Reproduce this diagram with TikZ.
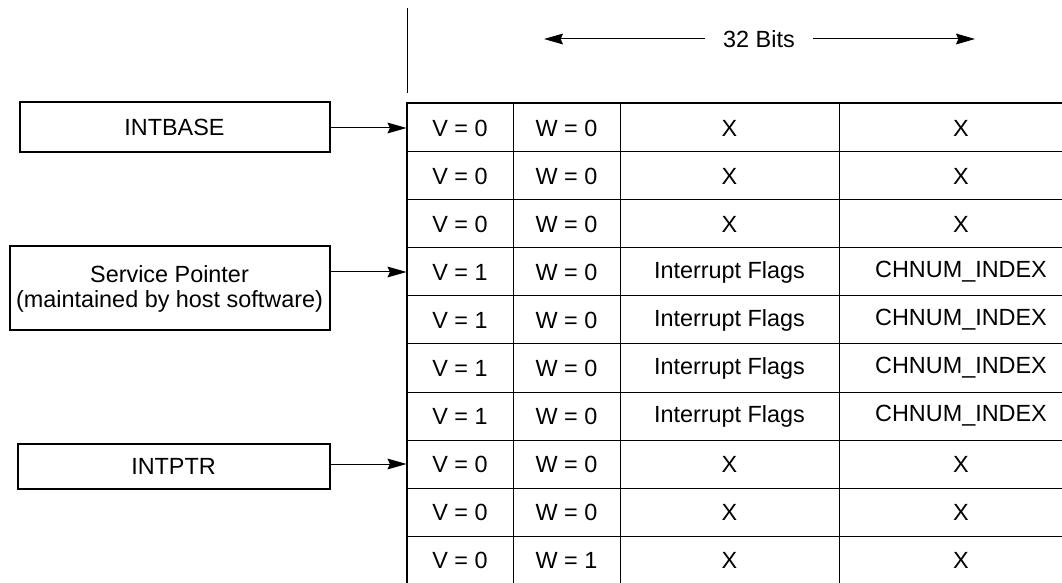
\documentclass[tikz,border=0pt]{standalone}
\usepackage{fontspec}
\setmainfont{Liberation Sans}
\usetikzlibrary{positioning,arrows.meta}

\begin{document}
\begin{tikzpicture}[
  x=0.5pt, y=-0.5pt,
  >={Stealth[length=9.5pt,width=5.4pt,inset=1.2pt]},
  font=\fontsize{11.7}{12.5}\selectfont,
  cell/.style={draw,line width=0.5pt,inner sep=0pt,minimum height=24pt,anchor=center},
  ptr/.style={draw,line width=1pt,align=center,inner sep=0pt},
  link/.style={->,line width=0.5pt}
]
  \clip (0,0) rectangle (1062,583);

  % the entry table, one row per entry
  \foreach \v/\w/\f/\c [count=\r] in {0/0/X/X, 0/0/X/X, 0/0/X/X,
      1/0/Interrupt Flags/CHNUM\_INDEX, 1/0/Interrupt Flags/CHNUM\_INDEX,
      1/0/Interrupt Flags/CHNUM\_INDEX, 1/0/Interrupt Flags/CHNUM\_INDEX,
      0/0/X/X, 0/0/X/X, 0/1/X/X}{
    \node[cell,minimum width=53pt]    (v\r) at (460,80+48*\r)   {V = \v};
    \node[cell,minimum width=53.5pt]  (w\r) at (566.5,80+48*\r) {W = \w};
    \node[cell,minimum width=109.5pt] (f\r) at (729.5,80+48*\r) {\f};
    \node[cell,minimum width=122pt]   (c\r) at (961,80+48*\r)   {\c};
  }
  \draw[line width=1pt] (v10.south west) rectangle (c1.north east);

  \coordinate (tickt) at (407,8);
  \coordinate (tickb) at (407,93);
  \draw[line width=0.5pt] (tickt) -- (tickb);

  \node[inner xsep=9pt] (bits) at (759,39) {32 Bits};
  \coordinate (bitsl) at (544,39);
  \coordinate (bitsr) at (975,39);
  \draw[link] (bits) -- (bitsl);
  \draw[link] (bits) -- (bitsr);

  % pointers into the table
  \node[ptr,minimum width=155pt,minimum height=25pt] (base) at (174.5,127.5) {INTBASE};
  \node[ptr,minimum width=160pt,minimum height=42pt] (svc) at (169.5,288.5)
       {Service Pointer\\(maintained by host software)};
  \node[ptr,minimum width=156pt,minimum height=22.5pt] (intptr) at (173.5,466) {INTPTR};

  \draw[link] (base.east |- v1) -- (v1.west);
  \draw[link] (svc.east |- v4) -- (v4.west);
  \draw[link] (intptr.east |- v8) -- (v8.west);
\end{tikzpicture}
\end{document}
